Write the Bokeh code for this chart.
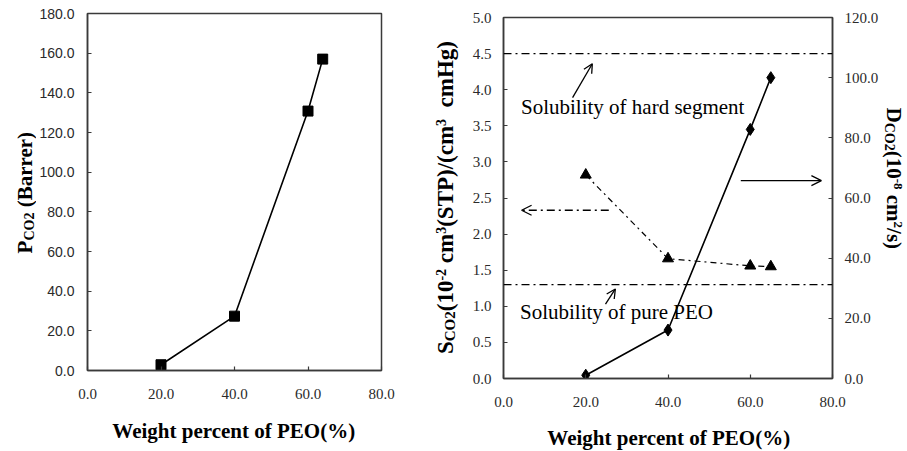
import math
from bokeh.plotting import figure
from bokeh.layouts import row, column
from bokeh.models import (Range1d, LinearAxis, FixedTicker, NumeralTickFormatter,
                          Label, Span, Arrow, OpenHead)
from bokeh.embed import file_html
from bokeh.resources import INLINE

# ---------------- data ----------------
peo_left = [20, 40, 60, 64]
perm_co2 = [2.9, 27.4, 130.8, 157.0]

peo_right = [20, 40, 60, 65]
sol_co2 = [2.82, 1.66, 1.56, 1.55]
diff_co2 = [1.1, 16.1, 82.8, 100.0]

sol_hard_segment = 4.5
sol_pure_peo = 1.3

x_ticks = [0, 20, 40, 60, 80]
perm_ticks = [0, 20, 40, 60, 80, 100, 120, 140, 160, 180]
sol_ticks = [0, 0.5, 1.0, 1.5, 2.0, 2.5, 3.0, 3.5, 4.0, 4.5, 5.0]
diff_ticks = [0, 20, 40, 60, 80, 100, 120]

x_title = "Weight percent of PEO(%)"
perm_title = [("P", 21, 0), ("CO2", 14, -2), (" (Barrer)", 21, 0)]
sol_title = [("S", 23, 0), ("CO2", 15, -2), ("(10", 23, 0), ("-2", 14, 8), (" cm", 23, 0),
             ("3", 14, 8), ("(STP)/(cm", 23, 0), ("3", 14, 8), ("  cmHg)", 23, 0)]
diff_title = [("D", 21, 0), ("CO2", 14, -2), ("(10", 21, 0), ("-8", 13, 7), (" cm", 21, 0),
              ("2", 13, 7), ("/s)", 21, 0)]

SERIF = "Liberation Serif"
SANS = "Liberation Sans"
FRAME = "#3a3a3a"
MID = 0.34  # em offset from baseline to the middle of the line box

# Times bold advance widths (1/1000 em) for composing rich titles
BOLD_W = {' ': 250, '(': 333, ')': 333, '/': 278, '%': 1000, '-': 333, '.': 250,
          'B': 667, 'C': 722, 'D': 722, 'E': 667, 'H': 778, 'O': 778, 'P': 611,
          'S': 556, 'T': 667, 'W': 1000, 'a': 500, 'c': 444, 'e': 444, 'f': 333,
          'g': 500, 'h': 556, 'i': 278, 'm': 833, 'n': 556, 'o': 500, 'p': 556,
          'r': 444, 's': 389, 't': 333}


def tw(text, size):
    return sum(BOLD_W.get(ch, 500) for ch in text) * size / 1000.0


def title_box(w, h, xr, yr):
    """A bare figure used to hold titles; xr / yr give its data extent in pixels
    (a row aligns its frame with the neighbouring plot's frame)."""
    f = figure(width=w, height=h, x_range=Range1d(*xr), y_range=Range1d(*yr),
               title=None, min_border=0, min_border_left=0, min_border_right=0,
               min_border_top=0, min_border_bottom=0,
               x_axis_location=None, y_axis_location=None,
               output_backend="svg", toolbar_location=None)
    f.outline_line_color = None
    f.grid.visible = False
    return f


def rich_title(p, pieces, x0, y0, angle, center=True):
    """x0, y0: baseline point (pixels, y up) of the start (or centre) of the title."""
    total = sum(tw(t, s) for t, s, _ in pieces)
    if angle > 0:
        d, u = (0, 1), (-1, 0)
    elif angle < 0:
        d, u = (0, -1), (1, 0)
    else:
        d, u = (1, 0), (0, 1)
    adv = -total / 2 if center else 0
    for text, size, rise in pieces:
        stripped = text.lstrip(" ")
        adv += tw(text[:len(text) - len(stripped)], size)  # leading spaces are collapsed in SVG
        up = rise + MID * size
        x = x0 + d[0] * adv + u[0] * up
        y = y0 + d[1] * adv + u[1] * up
        p.add_layout(Label(x=x, y=y, text=stripped, angle=angle, text_font=SERIF,
                           text_font_style="bold", text_font_size=f"{size}px",
                           text_align="left", text_baseline="middle",
                           text_color="black"))
        adv += tw(stripped, size)


def style_axis(ax, ticks, font, size, standoff):
    ax.ticker = FixedTicker(ticks=ticks)
    ax.formatter = NumeralTickFormatter(format="0.0")
    ax.axis_line_color = FRAME
    ax.axis_line_width = 1.5
    ax.major_tick_in = 4
    ax.major_tick_out = 0
    ax.major_tick_line_color = FRAME
    ax.major_tick_line_width = 1.2
    ax.minor_tick_line_color = None
    ax.major_label_text_font = font
    ax.major_label_text_font_size = f"{size}px"
    ax.major_label_text_color = "#2a2a2a"
    ax.major_label_standoff = standoff
    ax.axis_label = None


# ---------------- left plot ----------------
F1H = 357  # frame height of the left plot
p1 = figure(width=384, height=410, x_range=Range1d(0, 80), y_range=Range1d(0, 180),
            title=None, output_backend="svg", toolbar_location=None,
            min_border_left=51, min_border_right=39, min_border_top=13, min_border_bottom=40)
p1.xgrid.visible = False
p1.ygrid.visible = False
p1.outline_line_color = FRAME
p1.outline_line_width = 1.5
style_axis(p1.xaxis[0], x_ticks, SERIF, 15, 18)
style_axis(p1.yaxis[0], perm_ticks, SANS, 14, 13)

p1.line(peo_left, perm_co2, line_color="black", line_width=1.6)
p1.scatter(peo_left, perm_co2, marker="square", size=10, color="black")

# y-title box: its frame is aligned with p1's frame (page y 13..370)
t1y = title_box(36, 410, (0, 36), (0, F1H))
rich_title(t1y, perm_title, 32, 370 - 192, math.pi / 2)
t1x = title_box(420, 41, (0, 420), (0, 41))
rich_title(t1x, [(x_title, 21, 0)], 234, 13, 0)

# ---------------- right plot ----------------
F2H = 361  # frame height of the right plot
p2 = figure(width=421, height=416, x_range=Range1d(0, 80), y_range=Range1d(0, 5),
            title=None, output_backend="svg", toolbar_location=None,
            min_border_left=43, min_border_right=46, min_border_top=17, min_border_bottom=38)
p2.extra_y_ranges = {"diff": Range1d(0, 120)}
p2.xgrid.visible = False
p2.ygrid.visible = False
p2.outline_line_color = FRAME
p2.outline_line_width = 1.5
style_axis(p2.xaxis[0], x_ticks, SERIF, 15, 18)
style_axis(p2.yaxis[0], sol_ticks, SERIF, 15, 12)
rax = LinearAxis(y_range_name="diff")
style_axis(rax, diff_ticks, SERIF, 15, 12)
p2.add_layout(rax, "right")

for loc in (sol_hard_segment, sol_pure_peo):
    p2.add_layout(Span(location=loc, dimension="width", line_color="black",
                       line_width=1.3, line_dash="8 4 2 4"))

p2.line(peo_right, sol_co2, line_color="black", line_width=1.2, line_dash="6 4 2 4")
p2.scatter(peo_right, sol_co2, marker="triangle", size=11, color="black")

p2.line(peo_right, diff_co2, y_range_name="diff", line_color="black", line_width=1.6)
p2.scatter(peo_right, diff_co2, y_range_name="diff", marker="diamond", size=12, color="black")

# annotations
p2.add_layout(Label(x=4.25, y=3.76, text="Solubility of hard segment", text_font=SERIF,
                    text_font_size="21px", text_baseline="middle", text_color="black"))
p2.add_layout(Label(x=4.0, y=0.92, text="Solubility of pure PEO", text_font=SERIF,
                    text_font_size="21px", text_baseline="middle", text_color="black"))
p2.add_layout(Arrow(end=OpenHead(size=9, line_width=1.3), x_start=16.8, y_start=3.89,
                    x_end=21.6, y_end=4.36, line_width=1.3))
p2.add_layout(Arrow(end=OpenHead(size=9, line_width=1.3), x_start=24.8, y_start=1.03,
                    x_end=27.2, y_end=1.24, line_width=1.3))
p2.add_layout(Arrow(end=OpenHead(size=10, line_width=1.3), x_start=25.6, y_start=2.33,
                    x_end=4.4, y_end=2.33, line_width=1.3, line_dash="8 4 2 4"))
p2.add_layout(Arrow(end=OpenHead(size=10, line_width=1.3), x_start=57.7, y_start=2.74,
                    x_end=77.3, y_end=2.74, line_width=1.3))

# y-title boxes: frames aligned with p2's frame (page y 17..378)
t2y = title_box(40, 416, (0, 40), (0, F2H))
rich_title(t2y, sol_title, 33, 378 - 197, math.pi / 2)
t3y = title_box(26, 416, (0, 26), (0, F2H))
rich_title(t3y, diff_title, 5, 378 - 107, -math.pi / 2, center=False)
t2x = title_box(487, 35, (0, 487), (0, 35))
rich_title(t2x, [(x_title, 21, 0)], 249, 6, 0)

layout = row(column(row(t1y, p1), t1x),
             column(row(t2y, p2, t3y), t2x))
open("out.html", "w").write(file_html(layout, INLINE))
